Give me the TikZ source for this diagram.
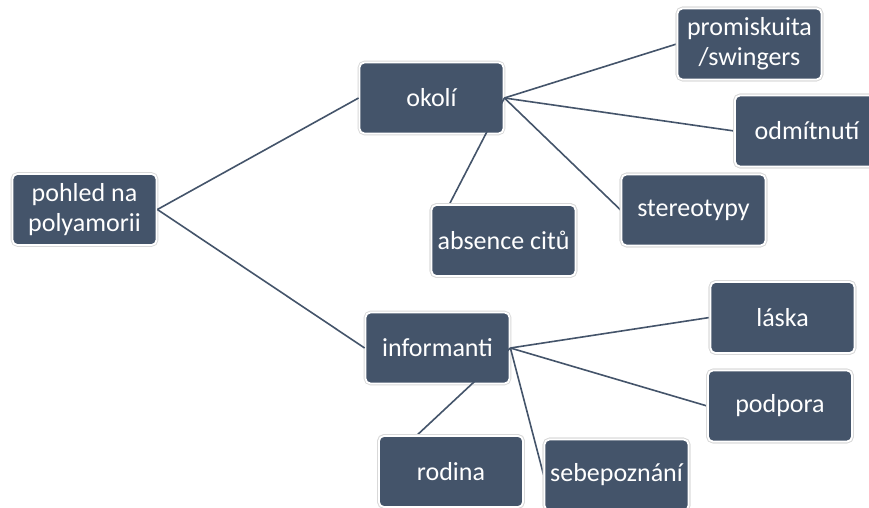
\documentclass[tikz,border=0pt]{standalone}
\usepackage{fontspec}
\setmainfont{Carlito}
\definecolor{boxblue}{HTML}{44546A}
\definecolor{glow}{HTML}{D9D9D9}
\tikzset{
  box/.style={rectangle, rounded corners=5pt, fill=boxblue, draw=white, line width=1.8pt,
    preaction={draw=glow, line width=3.6pt},
    minimum width=144pt, minimum height=71pt, inner sep=0pt, align=center,
    text=white, font=\fontsize{26}{30}\selectfont},
  link/.style={draw=boxblue, line width=1.6pt}
}
\begin{document}
\begin{tikzpicture}[x=1pt,y=1pt]
\clip (0,0) rectangle (869,508);
\fill[white] (0,0) rectangle (869,508);
% parents
\node[box] (root) at (84.5,298.5) {pohled na\\polyamorii};
\node[box] (okoli) at (431.5,410) {okolí};
\node[box] (inform) at (437.5,160) {informanti};
% edges
\draw[link] (root.east) -- (okoli.west);
\draw[link] (root.east) -- (inform.west);
\coordinate (oe) at (okoli.east);
\coordinate (ie) at (inform.east);
% children positions as coordinates for edges
\path (749.5,464) node[box, draw=none, fill=none, preaction={}] (prom) {\phantom{x}};
\path (807,377) node[box, draw=none, fill=none, preaction={}] (odm) {\phantom{x}};
\path (693.5,298) node[box, draw=none, fill=none, preaction={}] (stereo) {\phantom{x}};
\path (503.5,267.5) node[box, draw=none, fill=none, preaction={}] (absence) {\phantom{x}};
\path (782.5,190.5) node[box, draw=none, fill=none, preaction={}] (laska) {\phantom{x}};
\path (780,102) node[box, draw=none, fill=none, preaction={}] (podpora) {\phantom{x}};
\path (451,36.5) node[box, draw=none, fill=none, preaction={}] (rodina) {\phantom{x}};
\path (616.5,33) node[box, draw=none, fill=none, preaction={}] (sebe) {\phantom{x}};
\foreach \c in {prom,odm,stereo,absence} \draw[link] (oe) -- (\c.west);
\foreach \c in {laska,podpora,rodina,sebe} \draw[link] (ie) -- (\c.west);
% children
\node[box] (promB) at (prom) {promiskuita\\/swingers};
\node[box] (odmB) at (odm) {odmítnutí};
\node[box] (stereoB) at (stereo) {stereotypy};
\node[box] (absenceB) at (absence) {absence citů};
\node[box] (laskaB) at (laska) {láska};
\node[box] (podporaB) at (podpora) {podpora};
\node[box] (rodinaB) at (rodina) {rodina};
\node[box] (sebeB) at (sebe) {sebepoznání};
\end{tikzpicture}
\end{document}
